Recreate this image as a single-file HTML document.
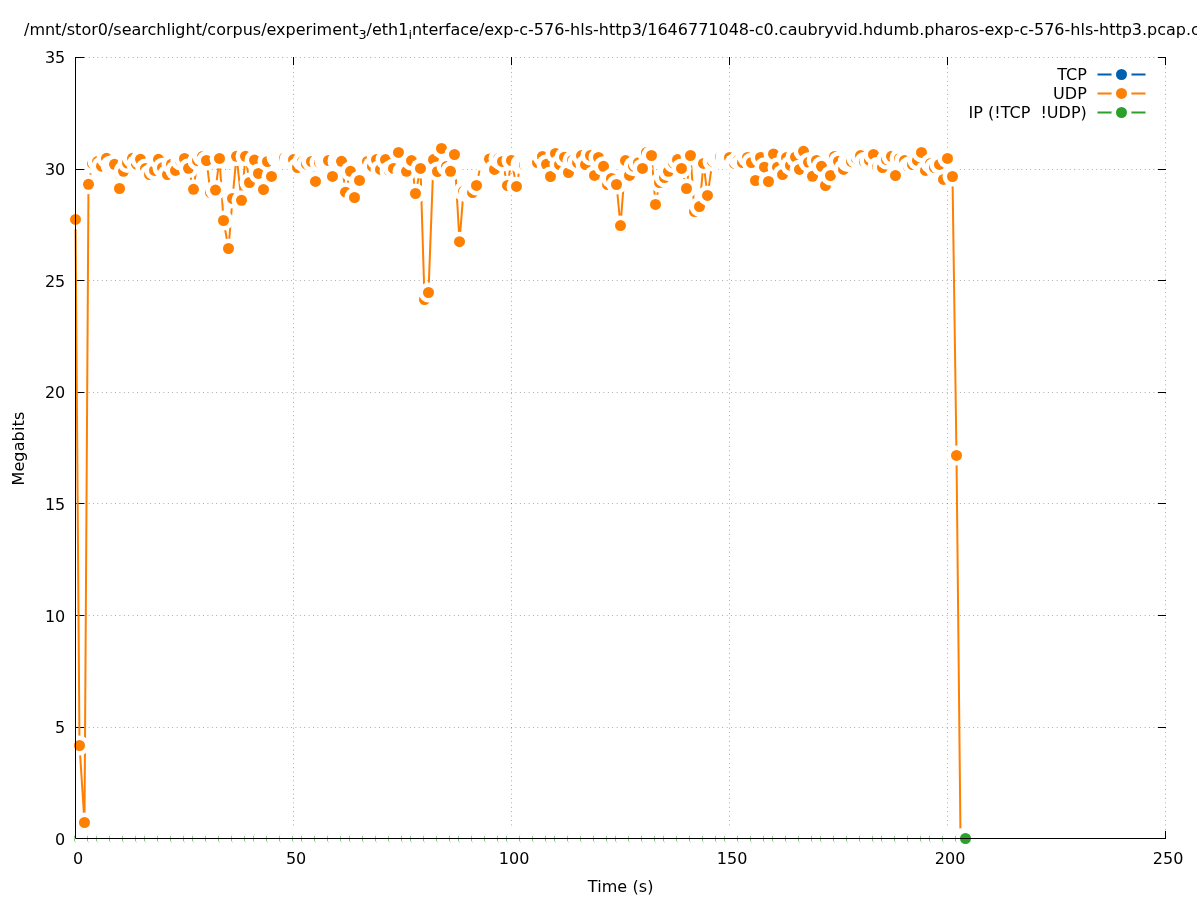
<!DOCTYPE html>
<html><head><meta charset="utf-8"><title>plot</title>
<style>html,body{margin:0;padding:0;background:#fff}svg{display:block}text{font-family:"DejaVu Sans","Liberation Sans",sans-serif;font-size:16px;fill:#000}</style></head><body>
<svg width="1197" height="900" viewBox="0 0 1197 900">
<rect width="1197" height="900" fill="#fff"/>
<g stroke="#000" stroke-opacity="0.4" stroke-width="1" stroke-dasharray="0.8 3.6" fill="none">
<path d="M75.5 838.5H1165.5"/>
<path d="M75.5 727.5H1165.5"/>
<path d="M75.5 615.5H1165.5"/>
<path d="M75.5 503.5H1165.5"/>
<path d="M75.5 392.5H1165.5"/>
<path d="M75.5 280.5H1165.5"/>
<path d="M75.5 169.5H1165.5"/>
<path d="M75.5 57.5H1165.5"/>
<path d="M75.5 838.5V57.5"/>
<path d="M293.5 838.5V57.5"/>
<path d="M511.5 838.5V57.5"/>
<path d="M729.5 838.5V57.5"/>
<path d="M947.5 838.5V57.5"/>
<path d="M1165.5 838.5V57.5"/>
</g>
<g stroke="#000" stroke-width="1" fill="none" stroke-linecap="butt">
<path d="M75 838.5H84.3M1157.9 838.5H1166"/>
<path d="M75 727.5H84.3M1157.9 727.5H1166"/>
<path d="M75 615.5H84.3M1157.9 615.5H1166"/>
<path d="M75 503.5H84.3M1157.9 503.5H1166"/>
<path d="M75 392.5H84.3M1157.9 392.5H1166"/>
<path d="M75 280.5H84.3M1157.9 280.5H1166"/>
<path d="M75 169.5H84.3M1157.9 169.5H1166"/>
<path d="M75 57.5H84.3M1157.9 57.5H1166"/>
<path d="M75.5 839V830.9M75.5 57V65.1"/>
<path d="M293.5 839V830.9M293.5 57V65.1"/>
<path d="M511.5 839V830.9M511.5 57V65.1"/>
<path d="M729.5 839V830.9M729.5 57V65.1"/>
<path d="M947.5 839V830.9M947.5 57V65.1"/>
<path d="M1165.5 839V830.9M1165.5 57V65.1"/>
</g>
<polyline points="75.50,219.40 79.50,745.50 84.50,822.50 88.50,184.30 92.50,163.40 97.50,161.60 101.50,166.20 106.50,158.30 110.50,165.50 114.50,164.30 119.50,188.50 123.50,171.30 127.50,163.00 132.50,158.30 136.50,164.20 140.50,159.30 145.50,168.50 149.50,174.60 154.50,170.40 158.50,159.30 162.50,167.70 167.50,174.60 171.50,164.20 175.50,170.40 180.50,160.50 184.50,158.50 188.50,168.30 193.50,189.30 197.50,160.70 202.50,156.40 206.50,160.50 210.50,192.60 215.50,190.10 219.50,158.40 223.50,220.50 228.50,248.50 232.50,198.50 236.50,156.30 241.50,200.30 245.50,156.30 249.50,182.50 254.50,160.10 258.50,173.40 263.50,189.50 267.50,161.50 271.50,176.40 276.50,157.10 280.50,158.30 284.50,158.00 289.50,159.50 293.50,159.60 297.50,167.50 302.50,161.40 306.50,164.20 311.50,161.50 315.50,181.40 319.50,162.60 324.50,161.30 328.50,160.50 332.50,176.40 337.50,160.90 341.50,161.30 345.50,192.20 350.50,171.30 354.50,197.50 359.50,180.40 363.50,161.70 367.50,161.40 372.50,166.40 376.50,159.60 380.50,169.40 385.50,159.60 389.50,170.90 393.50,168.40 398.50,152.40 402.50,171.80 406.50,171.30 411.50,160.60 415.50,193.50 420.50,168.40 424.50,299.50 428.50,292.50 433.50,159.60 437.50,171.50 441.50,148.40 446.50,166.40 450.50,171.30 454.50,154.50 459.50,241.70 463.50,191.30 468.50,193.50 472.50,192.60 476.50,185.40 481.50,160.90 485.50,159.60 489.50,159.00 494.50,169.40 498.50,158.80 502.50,161.50 507.50,185.50 511.50,160.50 516.50,186.40 520.50,164.00 524.50,165.10 529.50,164.20 533.50,163.40 537.50,162.50 542.50,156.40 546.50,164.30 550.50,176.50 555.50,153.50 559.50,164.60 564.50,157.20 568.50,172.50 572.50,160.20 577.50,162.60 581.50,155.60 585.50,164.60 590.50,155.50 594.50,175.40 598.50,157.50 603.50,166.30 607.50,184.60 611.50,178.50 616.50,184.50 620.50,225.60 625.50,160.60 629.50,175.40 633.50,166.20 638.50,162.70 642.50,168.40 646.50,152.50 651.50,155.50 655.50,204.40 659.50,182.50 664.50,177.50 668.50,171.30 673.50,163.00 677.50,159.60 681.50,168.40 686.50,188.50 690.50,155.50 694.50,211.60 699.50,206.60 703.50,163.40 707.50,195.40 712.50,161.40 716.50,158.10 720.50,156.70 725.50,156.90 729.50,157.50 734.50,163.40 738.50,160.00 742.50,162.50 747.50,157.50 751.50,162.50 755.50,180.50 760.50,157.50 764.50,167.20 768.50,181.50 773.50,154.00 777.50,167.20 782.50,174.60 786.50,157.60 790.50,165.40 795.50,157.10 799.50,169.40 803.50,151.30 808.50,162.30 812.50,176.30 816.50,160.40 821.50,166.30 825.50,185.50 830.50,175.50 834.50,156.40 838.50,161.30 843.50,169.40 847.50,161.90 851.50,161.70 856.50,158.40 860.50,155.60 864.50,161.70 869.50,160.40 873.50,154.50 877.50,166.80 882.50,167.50 886.50,159.50 891.50,156.30 895.50,175.50 899.50,158.40 904.50,160.60 908.50,166.80 912.50,164.60 917.50,160.40 921.50,152.40 925.50,170.40 930.50,163.50 934.50,167.50 939.50,164.40 943.50,179.40 947.50,158.40 952.50,176.50 956.50,455.40 960.50,838.50" fill="none" stroke="#ff7f00" stroke-width="2" stroke-linejoin="round"/>
<g>
<circle cx="75.50" cy="219.40" r="10.0" fill="#fff"/><circle cx="75.50" cy="219.40" r="5.5" fill="#ff7f00"/>
<circle cx="79.50" cy="745.50" r="10.0" fill="#fff"/><circle cx="79.50" cy="745.50" r="5.5" fill="#ff7f00"/>
<circle cx="84.50" cy="822.50" r="10.0" fill="#fff"/><circle cx="84.50" cy="822.50" r="5.5" fill="#ff7f00"/>
<circle cx="88.50" cy="184.30" r="10.0" fill="#fff"/><circle cx="88.50" cy="184.30" r="5.5" fill="#ff7f00"/>
<circle cx="92.50" cy="163.40" r="10.0" fill="#fff"/><circle cx="92.50" cy="163.40" r="5.5" fill="#ff7f00"/>
<circle cx="97.50" cy="161.60" r="10.0" fill="#fff"/><circle cx="97.50" cy="161.60" r="5.5" fill="#ff7f00"/>
<circle cx="101.50" cy="166.20" r="10.0" fill="#fff"/><circle cx="101.50" cy="166.20" r="5.5" fill="#ff7f00"/>
<circle cx="106.50" cy="158.30" r="10.0" fill="#fff"/><circle cx="106.50" cy="158.30" r="5.5" fill="#ff7f00"/>
<circle cx="110.50" cy="165.50" r="10.0" fill="#fff"/><circle cx="110.50" cy="165.50" r="5.5" fill="#ff7f00"/>
<circle cx="114.50" cy="164.30" r="10.0" fill="#fff"/><circle cx="114.50" cy="164.30" r="5.5" fill="#ff7f00"/>
<circle cx="119.50" cy="188.50" r="10.0" fill="#fff"/><circle cx="119.50" cy="188.50" r="5.5" fill="#ff7f00"/>
<circle cx="123.50" cy="171.30" r="10.0" fill="#fff"/><circle cx="123.50" cy="171.30" r="5.5" fill="#ff7f00"/>
<circle cx="127.50" cy="163.00" r="10.0" fill="#fff"/><circle cx="127.50" cy="163.00" r="5.5" fill="#ff7f00"/>
<circle cx="132.50" cy="158.30" r="10.0" fill="#fff"/><circle cx="132.50" cy="158.30" r="5.5" fill="#ff7f00"/>
<circle cx="136.50" cy="164.20" r="10.0" fill="#fff"/><circle cx="136.50" cy="164.20" r="5.5" fill="#ff7f00"/>
<circle cx="140.50" cy="159.30" r="10.0" fill="#fff"/><circle cx="140.50" cy="159.30" r="5.5" fill="#ff7f00"/>
<circle cx="145.50" cy="168.50" r="10.0" fill="#fff"/><circle cx="145.50" cy="168.50" r="5.5" fill="#ff7f00"/>
<circle cx="149.50" cy="174.60" r="10.0" fill="#fff"/><circle cx="149.50" cy="174.60" r="5.5" fill="#ff7f00"/>
<circle cx="154.50" cy="170.40" r="10.0" fill="#fff"/><circle cx="154.50" cy="170.40" r="5.5" fill="#ff7f00"/>
<circle cx="158.50" cy="159.30" r="10.0" fill="#fff"/><circle cx="158.50" cy="159.30" r="5.5" fill="#ff7f00"/>
<circle cx="162.50" cy="167.70" r="10.0" fill="#fff"/><circle cx="162.50" cy="167.70" r="5.5" fill="#ff7f00"/>
<circle cx="167.50" cy="174.60" r="10.0" fill="#fff"/><circle cx="167.50" cy="174.60" r="5.5" fill="#ff7f00"/>
<circle cx="171.50" cy="164.20" r="10.0" fill="#fff"/><circle cx="171.50" cy="164.20" r="5.5" fill="#ff7f00"/>
<circle cx="175.50" cy="170.40" r="10.0" fill="#fff"/><circle cx="175.50" cy="170.40" r="5.5" fill="#ff7f00"/>
<circle cx="180.50" cy="160.50" r="10.0" fill="#fff"/><circle cx="180.50" cy="160.50" r="5.5" fill="#ff7f00"/>
<circle cx="184.50" cy="158.50" r="10.0" fill="#fff"/><circle cx="184.50" cy="158.50" r="5.5" fill="#ff7f00"/>
<circle cx="188.50" cy="168.30" r="10.0" fill="#fff"/><circle cx="188.50" cy="168.30" r="5.5" fill="#ff7f00"/>
<circle cx="193.50" cy="189.30" r="10.0" fill="#fff"/><circle cx="193.50" cy="189.30" r="5.5" fill="#ff7f00"/>
<circle cx="197.50" cy="160.70" r="10.0" fill="#fff"/><circle cx="197.50" cy="160.70" r="5.5" fill="#ff7f00"/>
<circle cx="202.50" cy="156.40" r="10.0" fill="#fff"/><circle cx="202.50" cy="156.40" r="5.5" fill="#ff7f00"/>
<circle cx="206.50" cy="160.50" r="10.0" fill="#fff"/><circle cx="206.50" cy="160.50" r="5.5" fill="#ff7f00"/>
<circle cx="210.50" cy="192.60" r="10.0" fill="#fff"/><circle cx="210.50" cy="192.60" r="5.5" fill="#ff7f00"/>
<circle cx="215.50" cy="190.10" r="10.0" fill="#fff"/><circle cx="215.50" cy="190.10" r="5.5" fill="#ff7f00"/>
<circle cx="219.50" cy="158.40" r="10.0" fill="#fff"/><circle cx="219.50" cy="158.40" r="5.5" fill="#ff7f00"/>
<circle cx="223.50" cy="220.50" r="10.0" fill="#fff"/><circle cx="223.50" cy="220.50" r="5.5" fill="#ff7f00"/>
<circle cx="228.50" cy="248.50" r="10.0" fill="#fff"/><circle cx="228.50" cy="248.50" r="5.5" fill="#ff7f00"/>
<circle cx="232.50" cy="198.50" r="10.0" fill="#fff"/><circle cx="232.50" cy="198.50" r="5.5" fill="#ff7f00"/>
<circle cx="236.50" cy="156.30" r="10.0" fill="#fff"/><circle cx="236.50" cy="156.30" r="5.5" fill="#ff7f00"/>
<circle cx="241.50" cy="200.30" r="10.0" fill="#fff"/><circle cx="241.50" cy="200.30" r="5.5" fill="#ff7f00"/>
<circle cx="245.50" cy="156.30" r="10.0" fill="#fff"/><circle cx="245.50" cy="156.30" r="5.5" fill="#ff7f00"/>
<circle cx="249.50" cy="182.50" r="10.0" fill="#fff"/><circle cx="249.50" cy="182.50" r="5.5" fill="#ff7f00"/>
<circle cx="254.50" cy="160.10" r="10.0" fill="#fff"/><circle cx="254.50" cy="160.10" r="5.5" fill="#ff7f00"/>
<circle cx="258.50" cy="173.40" r="10.0" fill="#fff"/><circle cx="258.50" cy="173.40" r="5.5" fill="#ff7f00"/>
<circle cx="263.50" cy="189.50" r="10.0" fill="#fff"/><circle cx="263.50" cy="189.50" r="5.5" fill="#ff7f00"/>
<circle cx="267.50" cy="161.50" r="10.0" fill="#fff"/><circle cx="267.50" cy="161.50" r="5.5" fill="#ff7f00"/>
<circle cx="271.50" cy="176.40" r="10.0" fill="#fff"/><circle cx="271.50" cy="176.40" r="5.5" fill="#ff7f00"/>
<circle cx="276.50" cy="157.10" r="10.0" fill="#fff"/><circle cx="276.50" cy="157.10" r="5.5" fill="#ff7f00"/>
<circle cx="280.50" cy="158.30" r="10.0" fill="#fff"/><circle cx="280.50" cy="158.30" r="5.5" fill="#ff7f00"/>
<circle cx="284.50" cy="158.00" r="10.0" fill="#fff"/><circle cx="284.50" cy="158.00" r="5.5" fill="#ff7f00"/>
<circle cx="289.50" cy="159.50" r="10.0" fill="#fff"/><circle cx="289.50" cy="159.50" r="5.5" fill="#ff7f00"/>
<circle cx="293.50" cy="159.60" r="10.0" fill="#fff"/><circle cx="293.50" cy="159.60" r="5.5" fill="#ff7f00"/>
<circle cx="297.50" cy="167.50" r="10.0" fill="#fff"/><circle cx="297.50" cy="167.50" r="5.5" fill="#ff7f00"/>
<circle cx="302.50" cy="161.40" r="10.0" fill="#fff"/><circle cx="302.50" cy="161.40" r="5.5" fill="#ff7f00"/>
<circle cx="306.50" cy="164.20" r="10.0" fill="#fff"/><circle cx="306.50" cy="164.20" r="5.5" fill="#ff7f00"/>
<circle cx="311.50" cy="161.50" r="10.0" fill="#fff"/><circle cx="311.50" cy="161.50" r="5.5" fill="#ff7f00"/>
<circle cx="315.50" cy="181.40" r="10.0" fill="#fff"/><circle cx="315.50" cy="181.40" r="5.5" fill="#ff7f00"/>
<circle cx="319.50" cy="162.60" r="10.0" fill="#fff"/><circle cx="319.50" cy="162.60" r="5.5" fill="#ff7f00"/>
<circle cx="324.50" cy="161.30" r="10.0" fill="#fff"/><circle cx="324.50" cy="161.30" r="5.5" fill="#ff7f00"/>
<circle cx="328.50" cy="160.50" r="10.0" fill="#fff"/><circle cx="328.50" cy="160.50" r="5.5" fill="#ff7f00"/>
<circle cx="332.50" cy="176.40" r="10.0" fill="#fff"/><circle cx="332.50" cy="176.40" r="5.5" fill="#ff7f00"/>
<circle cx="337.50" cy="160.90" r="10.0" fill="#fff"/><circle cx="337.50" cy="160.90" r="5.5" fill="#ff7f00"/>
<circle cx="341.50" cy="161.30" r="10.0" fill="#fff"/><circle cx="341.50" cy="161.30" r="5.5" fill="#ff7f00"/>
<circle cx="345.50" cy="192.20" r="10.0" fill="#fff"/><circle cx="345.50" cy="192.20" r="5.5" fill="#ff7f00"/>
<circle cx="350.50" cy="171.30" r="10.0" fill="#fff"/><circle cx="350.50" cy="171.30" r="5.5" fill="#ff7f00"/>
<circle cx="354.50" cy="197.50" r="10.0" fill="#fff"/><circle cx="354.50" cy="197.50" r="5.5" fill="#ff7f00"/>
<circle cx="359.50" cy="180.40" r="10.0" fill="#fff"/><circle cx="359.50" cy="180.40" r="5.5" fill="#ff7f00"/>
<circle cx="363.50" cy="161.70" r="10.0" fill="#fff"/><circle cx="363.50" cy="161.70" r="5.5" fill="#ff7f00"/>
<circle cx="367.50" cy="161.40" r="10.0" fill="#fff"/><circle cx="367.50" cy="161.40" r="5.5" fill="#ff7f00"/>
<circle cx="372.50" cy="166.40" r="10.0" fill="#fff"/><circle cx="372.50" cy="166.40" r="5.5" fill="#ff7f00"/>
<circle cx="376.50" cy="159.60" r="10.0" fill="#fff"/><circle cx="376.50" cy="159.60" r="5.5" fill="#ff7f00"/>
<circle cx="380.50" cy="169.40" r="10.0" fill="#fff"/><circle cx="380.50" cy="169.40" r="5.5" fill="#ff7f00"/>
<circle cx="385.50" cy="159.60" r="10.0" fill="#fff"/><circle cx="385.50" cy="159.60" r="5.5" fill="#ff7f00"/>
<circle cx="389.50" cy="170.90" r="10.0" fill="#fff"/><circle cx="389.50" cy="170.90" r="5.5" fill="#ff7f00"/>
<circle cx="393.50" cy="168.40" r="10.0" fill="#fff"/><circle cx="393.50" cy="168.40" r="5.5" fill="#ff7f00"/>
<circle cx="398.50" cy="152.40" r="10.0" fill="#fff"/><circle cx="398.50" cy="152.40" r="5.5" fill="#ff7f00"/>
<circle cx="402.50" cy="171.80" r="10.0" fill="#fff"/><circle cx="402.50" cy="171.80" r="5.5" fill="#ff7f00"/>
<circle cx="406.50" cy="171.30" r="10.0" fill="#fff"/><circle cx="406.50" cy="171.30" r="5.5" fill="#ff7f00"/>
<circle cx="411.50" cy="160.60" r="10.0" fill="#fff"/><circle cx="411.50" cy="160.60" r="5.5" fill="#ff7f00"/>
<circle cx="415.50" cy="193.50" r="10.0" fill="#fff"/><circle cx="415.50" cy="193.50" r="5.5" fill="#ff7f00"/>
<circle cx="420.50" cy="168.40" r="10.0" fill="#fff"/><circle cx="420.50" cy="168.40" r="5.5" fill="#ff7f00"/>
<circle cx="424.50" cy="299.50" r="10.0" fill="#fff"/><circle cx="424.50" cy="299.50" r="5.5" fill="#ff7f00"/>
<circle cx="428.50" cy="292.50" r="10.0" fill="#fff"/><circle cx="428.50" cy="292.50" r="5.5" fill="#ff7f00"/>
<circle cx="433.50" cy="159.60" r="10.0" fill="#fff"/><circle cx="433.50" cy="159.60" r="5.5" fill="#ff7f00"/>
<circle cx="437.50" cy="171.50" r="10.0" fill="#fff"/><circle cx="437.50" cy="171.50" r="5.5" fill="#ff7f00"/>
<circle cx="441.50" cy="148.40" r="10.0" fill="#fff"/><circle cx="441.50" cy="148.40" r="5.5" fill="#ff7f00"/>
<circle cx="446.50" cy="166.40" r="10.0" fill="#fff"/><circle cx="446.50" cy="166.40" r="5.5" fill="#ff7f00"/>
<circle cx="450.50" cy="171.30" r="10.0" fill="#fff"/><circle cx="450.50" cy="171.30" r="5.5" fill="#ff7f00"/>
<circle cx="454.50" cy="154.50" r="10.0" fill="#fff"/><circle cx="454.50" cy="154.50" r="5.5" fill="#ff7f00"/>
<circle cx="459.50" cy="241.70" r="10.0" fill="#fff"/><circle cx="459.50" cy="241.70" r="5.5" fill="#ff7f00"/>
<circle cx="463.50" cy="191.30" r="10.0" fill="#fff"/><circle cx="463.50" cy="191.30" r="5.5" fill="#ff7f00"/>
<circle cx="468.50" cy="193.50" r="10.0" fill="#fff"/><circle cx="468.50" cy="193.50" r="5.5" fill="#ff7f00"/>
<circle cx="472.50" cy="192.60" r="10.0" fill="#fff"/><circle cx="472.50" cy="192.60" r="5.5" fill="#ff7f00"/>
<circle cx="476.50" cy="185.40" r="10.0" fill="#fff"/><circle cx="476.50" cy="185.40" r="5.5" fill="#ff7f00"/>
<circle cx="481.50" cy="160.90" r="10.0" fill="#fff"/><circle cx="481.50" cy="160.90" r="5.5" fill="#ff7f00"/>
<circle cx="485.50" cy="159.60" r="10.0" fill="#fff"/><circle cx="485.50" cy="159.60" r="5.5" fill="#ff7f00"/>
<circle cx="489.50" cy="159.00" r="10.0" fill="#fff"/><circle cx="489.50" cy="159.00" r="5.5" fill="#ff7f00"/>
<circle cx="494.50" cy="169.40" r="10.0" fill="#fff"/><circle cx="494.50" cy="169.40" r="5.5" fill="#ff7f00"/>
<circle cx="498.50" cy="158.80" r="10.0" fill="#fff"/><circle cx="498.50" cy="158.80" r="5.5" fill="#ff7f00"/>
<circle cx="502.50" cy="161.50" r="10.0" fill="#fff"/><circle cx="502.50" cy="161.50" r="5.5" fill="#ff7f00"/>
<circle cx="507.50" cy="185.50" r="10.0" fill="#fff"/><circle cx="507.50" cy="185.50" r="5.5" fill="#ff7f00"/>
<circle cx="511.50" cy="160.50" r="10.0" fill="#fff"/><circle cx="511.50" cy="160.50" r="5.5" fill="#ff7f00"/>
<circle cx="516.50" cy="186.40" r="10.0" fill="#fff"/><circle cx="516.50" cy="186.40" r="5.5" fill="#ff7f00"/>
<circle cx="520.50" cy="164.00" r="10.0" fill="#fff"/><circle cx="520.50" cy="164.00" r="5.5" fill="#ff7f00"/>
<circle cx="524.50" cy="165.10" r="10.0" fill="#fff"/><circle cx="524.50" cy="165.10" r="5.5" fill="#ff7f00"/>
<circle cx="529.50" cy="164.20" r="10.0" fill="#fff"/><circle cx="529.50" cy="164.20" r="5.5" fill="#ff7f00"/>
<circle cx="533.50" cy="163.40" r="10.0" fill="#fff"/><circle cx="533.50" cy="163.40" r="5.5" fill="#ff7f00"/>
<circle cx="537.50" cy="162.50" r="10.0" fill="#fff"/><circle cx="537.50" cy="162.50" r="5.5" fill="#ff7f00"/>
<circle cx="542.50" cy="156.40" r="10.0" fill="#fff"/><circle cx="542.50" cy="156.40" r="5.5" fill="#ff7f00"/>
<circle cx="546.50" cy="164.30" r="10.0" fill="#fff"/><circle cx="546.50" cy="164.30" r="5.5" fill="#ff7f00"/>
<circle cx="550.50" cy="176.50" r="10.0" fill="#fff"/><circle cx="550.50" cy="176.50" r="5.5" fill="#ff7f00"/>
<circle cx="555.50" cy="153.50" r="10.0" fill="#fff"/><circle cx="555.50" cy="153.50" r="5.5" fill="#ff7f00"/>
<circle cx="559.50" cy="164.60" r="10.0" fill="#fff"/><circle cx="559.50" cy="164.60" r="5.5" fill="#ff7f00"/>
<circle cx="564.50" cy="157.20" r="10.0" fill="#fff"/><circle cx="564.50" cy="157.20" r="5.5" fill="#ff7f00"/>
<circle cx="568.50" cy="172.50" r="10.0" fill="#fff"/><circle cx="568.50" cy="172.50" r="5.5" fill="#ff7f00"/>
<circle cx="572.50" cy="160.20" r="10.0" fill="#fff"/><circle cx="572.50" cy="160.20" r="5.5" fill="#ff7f00"/>
<circle cx="577.50" cy="162.60" r="10.0" fill="#fff"/><circle cx="577.50" cy="162.60" r="5.5" fill="#ff7f00"/>
<circle cx="581.50" cy="155.60" r="10.0" fill="#fff"/><circle cx="581.50" cy="155.60" r="5.5" fill="#ff7f00"/>
<circle cx="585.50" cy="164.60" r="10.0" fill="#fff"/><circle cx="585.50" cy="164.60" r="5.5" fill="#ff7f00"/>
<circle cx="590.50" cy="155.50" r="10.0" fill="#fff"/><circle cx="590.50" cy="155.50" r="5.5" fill="#ff7f00"/>
<circle cx="594.50" cy="175.40" r="10.0" fill="#fff"/><circle cx="594.50" cy="175.40" r="5.5" fill="#ff7f00"/>
<circle cx="598.50" cy="157.50" r="10.0" fill="#fff"/><circle cx="598.50" cy="157.50" r="5.5" fill="#ff7f00"/>
<circle cx="603.50" cy="166.30" r="10.0" fill="#fff"/><circle cx="603.50" cy="166.30" r="5.5" fill="#ff7f00"/>
<circle cx="607.50" cy="184.60" r="10.0" fill="#fff"/><circle cx="607.50" cy="184.60" r="5.5" fill="#ff7f00"/>
<circle cx="611.50" cy="178.50" r="10.0" fill="#fff"/><circle cx="611.50" cy="178.50" r="5.5" fill="#ff7f00"/>
<circle cx="616.50" cy="184.50" r="10.0" fill="#fff"/><circle cx="616.50" cy="184.50" r="5.5" fill="#ff7f00"/>
<circle cx="620.50" cy="225.60" r="10.0" fill="#fff"/><circle cx="620.50" cy="225.60" r="5.5" fill="#ff7f00"/>
<circle cx="625.50" cy="160.60" r="10.0" fill="#fff"/><circle cx="625.50" cy="160.60" r="5.5" fill="#ff7f00"/>
<circle cx="629.50" cy="175.40" r="10.0" fill="#fff"/><circle cx="629.50" cy="175.40" r="5.5" fill="#ff7f00"/>
<circle cx="633.50" cy="166.20" r="10.0" fill="#fff"/><circle cx="633.50" cy="166.20" r="5.5" fill="#ff7f00"/>
<circle cx="638.50" cy="162.70" r="10.0" fill="#fff"/><circle cx="638.50" cy="162.70" r="5.5" fill="#ff7f00"/>
<circle cx="642.50" cy="168.40" r="10.0" fill="#fff"/><circle cx="642.50" cy="168.40" r="5.5" fill="#ff7f00"/>
<circle cx="646.50" cy="152.50" r="10.0" fill="#fff"/><circle cx="646.50" cy="152.50" r="5.5" fill="#ff7f00"/>
<circle cx="651.50" cy="155.50" r="10.0" fill="#fff"/><circle cx="651.50" cy="155.50" r="5.5" fill="#ff7f00"/>
<circle cx="655.50" cy="204.40" r="10.0" fill="#fff"/><circle cx="655.50" cy="204.40" r="5.5" fill="#ff7f00"/>
<circle cx="659.50" cy="182.50" r="10.0" fill="#fff"/><circle cx="659.50" cy="182.50" r="5.5" fill="#ff7f00"/>
<circle cx="664.50" cy="177.50" r="10.0" fill="#fff"/><circle cx="664.50" cy="177.50" r="5.5" fill="#ff7f00"/>
<circle cx="668.50" cy="171.30" r="10.0" fill="#fff"/><circle cx="668.50" cy="171.30" r="5.5" fill="#ff7f00"/>
<circle cx="673.50" cy="163.00" r="10.0" fill="#fff"/><circle cx="673.50" cy="163.00" r="5.5" fill="#ff7f00"/>
<circle cx="677.50" cy="159.60" r="10.0" fill="#fff"/><circle cx="677.50" cy="159.60" r="5.5" fill="#ff7f00"/>
<circle cx="681.50" cy="168.40" r="10.0" fill="#fff"/><circle cx="681.50" cy="168.40" r="5.5" fill="#ff7f00"/>
<circle cx="686.50" cy="188.50" r="10.0" fill="#fff"/><circle cx="686.50" cy="188.50" r="5.5" fill="#ff7f00"/>
<circle cx="690.50" cy="155.50" r="10.0" fill="#fff"/><circle cx="690.50" cy="155.50" r="5.5" fill="#ff7f00"/>
<circle cx="694.50" cy="211.60" r="10.0" fill="#fff"/><circle cx="694.50" cy="211.60" r="5.5" fill="#ff7f00"/>
<circle cx="699.50" cy="206.60" r="10.0" fill="#fff"/><circle cx="699.50" cy="206.60" r="5.5" fill="#ff7f00"/>
<circle cx="703.50" cy="163.40" r="10.0" fill="#fff"/><circle cx="703.50" cy="163.40" r="5.5" fill="#ff7f00"/>
<circle cx="707.50" cy="195.40" r="10.0" fill="#fff"/><circle cx="707.50" cy="195.40" r="5.5" fill="#ff7f00"/>
<circle cx="712.50" cy="161.40" r="10.0" fill="#fff"/><circle cx="712.50" cy="161.40" r="5.5" fill="#ff7f00"/>
<circle cx="716.50" cy="158.10" r="10.0" fill="#fff"/><circle cx="716.50" cy="158.10" r="5.5" fill="#ff7f00"/>
<circle cx="720.50" cy="156.70" r="10.0" fill="#fff"/><circle cx="720.50" cy="156.70" r="5.5" fill="#ff7f00"/>
<circle cx="725.50" cy="156.90" r="10.0" fill="#fff"/><circle cx="725.50" cy="156.90" r="5.5" fill="#ff7f00"/>
<circle cx="729.50" cy="157.50" r="10.0" fill="#fff"/><circle cx="729.50" cy="157.50" r="5.5" fill="#ff7f00"/>
<circle cx="734.50" cy="163.40" r="10.0" fill="#fff"/><circle cx="734.50" cy="163.40" r="5.5" fill="#ff7f00"/>
<circle cx="738.50" cy="160.00" r="10.0" fill="#fff"/><circle cx="738.50" cy="160.00" r="5.5" fill="#ff7f00"/>
<circle cx="742.50" cy="162.50" r="10.0" fill="#fff"/><circle cx="742.50" cy="162.50" r="5.5" fill="#ff7f00"/>
<circle cx="747.50" cy="157.50" r="10.0" fill="#fff"/><circle cx="747.50" cy="157.50" r="5.5" fill="#ff7f00"/>
<circle cx="751.50" cy="162.50" r="10.0" fill="#fff"/><circle cx="751.50" cy="162.50" r="5.5" fill="#ff7f00"/>
<circle cx="755.50" cy="180.50" r="10.0" fill="#fff"/><circle cx="755.50" cy="180.50" r="5.5" fill="#ff7f00"/>
<circle cx="760.50" cy="157.50" r="10.0" fill="#fff"/><circle cx="760.50" cy="157.50" r="5.5" fill="#ff7f00"/>
<circle cx="764.50" cy="167.20" r="10.0" fill="#fff"/><circle cx="764.50" cy="167.20" r="5.5" fill="#ff7f00"/>
<circle cx="768.50" cy="181.50" r="10.0" fill="#fff"/><circle cx="768.50" cy="181.50" r="5.5" fill="#ff7f00"/>
<circle cx="773.50" cy="154.00" r="10.0" fill="#fff"/><circle cx="773.50" cy="154.00" r="5.5" fill="#ff7f00"/>
<circle cx="777.50" cy="167.20" r="10.0" fill="#fff"/><circle cx="777.50" cy="167.20" r="5.5" fill="#ff7f00"/>
<circle cx="782.50" cy="174.60" r="10.0" fill="#fff"/><circle cx="782.50" cy="174.60" r="5.5" fill="#ff7f00"/>
<circle cx="786.50" cy="157.60" r="10.0" fill="#fff"/><circle cx="786.50" cy="157.60" r="5.5" fill="#ff7f00"/>
<circle cx="790.50" cy="165.40" r="10.0" fill="#fff"/><circle cx="790.50" cy="165.40" r="5.5" fill="#ff7f00"/>
<circle cx="795.50" cy="157.10" r="10.0" fill="#fff"/><circle cx="795.50" cy="157.10" r="5.5" fill="#ff7f00"/>
<circle cx="799.50" cy="169.40" r="10.0" fill="#fff"/><circle cx="799.50" cy="169.40" r="5.5" fill="#ff7f00"/>
<circle cx="803.50" cy="151.30" r="10.0" fill="#fff"/><circle cx="803.50" cy="151.30" r="5.5" fill="#ff7f00"/>
<circle cx="808.50" cy="162.30" r="10.0" fill="#fff"/><circle cx="808.50" cy="162.30" r="5.5" fill="#ff7f00"/>
<circle cx="812.50" cy="176.30" r="10.0" fill="#fff"/><circle cx="812.50" cy="176.30" r="5.5" fill="#ff7f00"/>
<circle cx="816.50" cy="160.40" r="10.0" fill="#fff"/><circle cx="816.50" cy="160.40" r="5.5" fill="#ff7f00"/>
<circle cx="821.50" cy="166.30" r="10.0" fill="#fff"/><circle cx="821.50" cy="166.30" r="5.5" fill="#ff7f00"/>
<circle cx="825.50" cy="185.50" r="10.0" fill="#fff"/><circle cx="825.50" cy="185.50" r="5.5" fill="#ff7f00"/>
<circle cx="830.50" cy="175.50" r="10.0" fill="#fff"/><circle cx="830.50" cy="175.50" r="5.5" fill="#ff7f00"/>
<circle cx="834.50" cy="156.40" r="10.0" fill="#fff"/><circle cx="834.50" cy="156.40" r="5.5" fill="#ff7f00"/>
<circle cx="838.50" cy="161.30" r="10.0" fill="#fff"/><circle cx="838.50" cy="161.30" r="5.5" fill="#ff7f00"/>
<circle cx="843.50" cy="169.40" r="10.0" fill="#fff"/><circle cx="843.50" cy="169.40" r="5.5" fill="#ff7f00"/>
<circle cx="847.50" cy="161.90" r="10.0" fill="#fff"/><circle cx="847.50" cy="161.90" r="5.5" fill="#ff7f00"/>
<circle cx="851.50" cy="161.70" r="10.0" fill="#fff"/><circle cx="851.50" cy="161.70" r="5.5" fill="#ff7f00"/>
<circle cx="856.50" cy="158.40" r="10.0" fill="#fff"/><circle cx="856.50" cy="158.40" r="5.5" fill="#ff7f00"/>
<circle cx="860.50" cy="155.60" r="10.0" fill="#fff"/><circle cx="860.50" cy="155.60" r="5.5" fill="#ff7f00"/>
<circle cx="864.50" cy="161.70" r="10.0" fill="#fff"/><circle cx="864.50" cy="161.70" r="5.5" fill="#ff7f00"/>
<circle cx="869.50" cy="160.40" r="10.0" fill="#fff"/><circle cx="869.50" cy="160.40" r="5.5" fill="#ff7f00"/>
<circle cx="873.50" cy="154.50" r="10.0" fill="#fff"/><circle cx="873.50" cy="154.50" r="5.5" fill="#ff7f00"/>
<circle cx="877.50" cy="166.80" r="10.0" fill="#fff"/><circle cx="877.50" cy="166.80" r="5.5" fill="#ff7f00"/>
<circle cx="882.50" cy="167.50" r="10.0" fill="#fff"/><circle cx="882.50" cy="167.50" r="5.5" fill="#ff7f00"/>
<circle cx="886.50" cy="159.50" r="10.0" fill="#fff"/><circle cx="886.50" cy="159.50" r="5.5" fill="#ff7f00"/>
<circle cx="891.50" cy="156.30" r="10.0" fill="#fff"/><circle cx="891.50" cy="156.30" r="5.5" fill="#ff7f00"/>
<circle cx="895.50" cy="175.50" r="10.0" fill="#fff"/><circle cx="895.50" cy="175.50" r="5.5" fill="#ff7f00"/>
<circle cx="899.50" cy="158.40" r="10.0" fill="#fff"/><circle cx="899.50" cy="158.40" r="5.5" fill="#ff7f00"/>
<circle cx="904.50" cy="160.60" r="10.0" fill="#fff"/><circle cx="904.50" cy="160.60" r="5.5" fill="#ff7f00"/>
<circle cx="908.50" cy="166.80" r="10.0" fill="#fff"/><circle cx="908.50" cy="166.80" r="5.5" fill="#ff7f00"/>
<circle cx="912.50" cy="164.60" r="10.0" fill="#fff"/><circle cx="912.50" cy="164.60" r="5.5" fill="#ff7f00"/>
<circle cx="917.50" cy="160.40" r="10.0" fill="#fff"/><circle cx="917.50" cy="160.40" r="5.5" fill="#ff7f00"/>
<circle cx="921.50" cy="152.40" r="10.0" fill="#fff"/><circle cx="921.50" cy="152.40" r="5.5" fill="#ff7f00"/>
<circle cx="925.50" cy="170.40" r="10.0" fill="#fff"/><circle cx="925.50" cy="170.40" r="5.5" fill="#ff7f00"/>
<circle cx="930.50" cy="163.50" r="10.0" fill="#fff"/><circle cx="930.50" cy="163.50" r="5.5" fill="#ff7f00"/>
<circle cx="934.50" cy="167.50" r="10.0" fill="#fff"/><circle cx="934.50" cy="167.50" r="5.5" fill="#ff7f00"/>
<circle cx="939.50" cy="164.40" r="10.0" fill="#fff"/><circle cx="939.50" cy="164.40" r="5.5" fill="#ff7f00"/>
<circle cx="943.50" cy="179.40" r="10.0" fill="#fff"/><circle cx="943.50" cy="179.40" r="5.5" fill="#ff7f00"/>
<circle cx="947.50" cy="158.40" r="10.0" fill="#fff"/><circle cx="947.50" cy="158.40" r="5.5" fill="#ff7f00"/>
<circle cx="952.50" cy="176.50" r="10.0" fill="#fff"/><circle cx="952.50" cy="176.50" r="5.5" fill="#ff7f00"/>
<circle cx="956.50" cy="455.40" r="10.0" fill="#fff"/><circle cx="956.50" cy="455.40" r="5.5" fill="#ff7f00"/>
<circle cx="960.50" cy="838.50" r="10.0" fill="#fff"/><circle cx="960.50" cy="838.50" r="5.5" fill="#ff7f00"/>
</g>
<g>
<circle cx="79.50" cy="838.5" r="10.0" fill="#fff"/><circle cx="79.50" cy="838.5" r="5.5" fill="#2ca02c"/>
<circle cx="84.50" cy="838.5" r="10.0" fill="#fff"/><circle cx="84.50" cy="838.5" r="5.5" fill="#2ca02c"/>
<circle cx="88.50" cy="838.5" r="10.0" fill="#fff"/><circle cx="88.50" cy="838.5" r="5.5" fill="#2ca02c"/>
<circle cx="92.50" cy="838.5" r="10.0" fill="#fff"/><circle cx="92.50" cy="838.5" r="5.5" fill="#2ca02c"/>
<circle cx="97.50" cy="838.5" r="10.0" fill="#fff"/><circle cx="97.50" cy="838.5" r="5.5" fill="#2ca02c"/>
<circle cx="101.50" cy="838.5" r="10.0" fill="#fff"/><circle cx="101.50" cy="838.5" r="5.5" fill="#2ca02c"/>
<circle cx="106.50" cy="838.5" r="10.0" fill="#fff"/><circle cx="106.50" cy="838.5" r="5.5" fill="#2ca02c"/>
<circle cx="110.50" cy="838.5" r="10.0" fill="#fff"/><circle cx="110.50" cy="838.5" r="5.5" fill="#2ca02c"/>
<circle cx="114.50" cy="838.5" r="10.0" fill="#fff"/><circle cx="114.50" cy="838.5" r="5.5" fill="#2ca02c"/>
<circle cx="119.50" cy="838.5" r="10.0" fill="#fff"/><circle cx="119.50" cy="838.5" r="5.5" fill="#2ca02c"/>
<circle cx="123.50" cy="838.5" r="10.0" fill="#fff"/><circle cx="123.50" cy="838.5" r="5.5" fill="#2ca02c"/>
<circle cx="127.50" cy="838.5" r="10.0" fill="#fff"/><circle cx="127.50" cy="838.5" r="5.5" fill="#2ca02c"/>
<circle cx="132.50" cy="838.5" r="10.0" fill="#fff"/><circle cx="132.50" cy="838.5" r="5.5" fill="#2ca02c"/>
<circle cx="136.50" cy="838.5" r="10.0" fill="#fff"/><circle cx="136.50" cy="838.5" r="5.5" fill="#2ca02c"/>
<circle cx="140.50" cy="838.5" r="10.0" fill="#fff"/><circle cx="140.50" cy="838.5" r="5.5" fill="#2ca02c"/>
<circle cx="145.50" cy="838.5" r="10.0" fill="#fff"/><circle cx="145.50" cy="838.5" r="5.5" fill="#2ca02c"/>
<circle cx="149.50" cy="838.5" r="10.0" fill="#fff"/><circle cx="149.50" cy="838.5" r="5.5" fill="#2ca02c"/>
<circle cx="154.50" cy="838.5" r="10.0" fill="#fff"/><circle cx="154.50" cy="838.5" r="5.5" fill="#2ca02c"/>
<circle cx="158.50" cy="838.5" r="10.0" fill="#fff"/><circle cx="158.50" cy="838.5" r="5.5" fill="#2ca02c"/>
<circle cx="162.50" cy="838.5" r="10.0" fill="#fff"/><circle cx="162.50" cy="838.5" r="5.5" fill="#2ca02c"/>
<circle cx="167.50" cy="838.5" r="10.0" fill="#fff"/><circle cx="167.50" cy="838.5" r="5.5" fill="#2ca02c"/>
<circle cx="171.50" cy="838.5" r="10.0" fill="#fff"/><circle cx="171.50" cy="838.5" r="5.5" fill="#2ca02c"/>
<circle cx="175.50" cy="838.5" r="10.0" fill="#fff"/><circle cx="175.50" cy="838.5" r="5.5" fill="#2ca02c"/>
<circle cx="180.50" cy="838.5" r="10.0" fill="#fff"/><circle cx="180.50" cy="838.5" r="5.5" fill="#2ca02c"/>
<circle cx="184.50" cy="838.5" r="10.0" fill="#fff"/><circle cx="184.50" cy="838.5" r="5.5" fill="#2ca02c"/>
<circle cx="188.50" cy="838.5" r="10.0" fill="#fff"/><circle cx="188.50" cy="838.5" r="5.5" fill="#2ca02c"/>
<circle cx="193.50" cy="838.5" r="10.0" fill="#fff"/><circle cx="193.50" cy="838.5" r="5.5" fill="#2ca02c"/>
<circle cx="197.50" cy="838.5" r="10.0" fill="#fff"/><circle cx="197.50" cy="838.5" r="5.5" fill="#2ca02c"/>
<circle cx="202.50" cy="838.5" r="10.0" fill="#fff"/><circle cx="202.50" cy="838.5" r="5.5" fill="#2ca02c"/>
<circle cx="206.50" cy="838.5" r="10.0" fill="#fff"/><circle cx="206.50" cy="838.5" r="5.5" fill="#2ca02c"/>
<circle cx="210.50" cy="838.5" r="10.0" fill="#fff"/><circle cx="210.50" cy="838.5" r="5.5" fill="#2ca02c"/>
<circle cx="215.50" cy="838.5" r="10.0" fill="#fff"/><circle cx="215.50" cy="838.5" r="5.5" fill="#2ca02c"/>
<circle cx="219.50" cy="838.5" r="10.0" fill="#fff"/><circle cx="219.50" cy="838.5" r="5.5" fill="#2ca02c"/>
<circle cx="223.50" cy="838.5" r="10.0" fill="#fff"/><circle cx="223.50" cy="838.5" r="5.5" fill="#2ca02c"/>
<circle cx="228.50" cy="838.5" r="10.0" fill="#fff"/><circle cx="228.50" cy="838.5" r="5.5" fill="#2ca02c"/>
<circle cx="232.50" cy="838.5" r="10.0" fill="#fff"/><circle cx="232.50" cy="838.5" r="5.5" fill="#2ca02c"/>
<circle cx="236.50" cy="838.5" r="10.0" fill="#fff"/><circle cx="236.50" cy="838.5" r="5.5" fill="#2ca02c"/>
<circle cx="241.50" cy="838.5" r="10.0" fill="#fff"/><circle cx="241.50" cy="838.5" r="5.5" fill="#2ca02c"/>
<circle cx="245.50" cy="838.5" r="10.0" fill="#fff"/><circle cx="245.50" cy="838.5" r="5.5" fill="#2ca02c"/>
<circle cx="249.50" cy="838.5" r="10.0" fill="#fff"/><circle cx="249.50" cy="838.5" r="5.5" fill="#2ca02c"/>
<circle cx="254.50" cy="838.5" r="10.0" fill="#fff"/><circle cx="254.50" cy="838.5" r="5.5" fill="#2ca02c"/>
<circle cx="258.50" cy="838.5" r="10.0" fill="#fff"/><circle cx="258.50" cy="838.5" r="5.5" fill="#2ca02c"/>
<circle cx="263.50" cy="838.5" r="10.0" fill="#fff"/><circle cx="263.50" cy="838.5" r="5.5" fill="#2ca02c"/>
<circle cx="267.50" cy="838.5" r="10.0" fill="#fff"/><circle cx="267.50" cy="838.5" r="5.5" fill="#2ca02c"/>
<circle cx="271.50" cy="838.5" r="10.0" fill="#fff"/><circle cx="271.50" cy="838.5" r="5.5" fill="#2ca02c"/>
<circle cx="276.50" cy="838.5" r="10.0" fill="#fff"/><circle cx="276.50" cy="838.5" r="5.5" fill="#2ca02c"/>
<circle cx="280.50" cy="838.5" r="10.0" fill="#fff"/><circle cx="280.50" cy="838.5" r="5.5" fill="#2ca02c"/>
<circle cx="284.50" cy="838.5" r="10.0" fill="#fff"/><circle cx="284.50" cy="838.5" r="5.5" fill="#2ca02c"/>
<circle cx="289.50" cy="838.5" r="10.0" fill="#fff"/><circle cx="289.50" cy="838.5" r="5.5" fill="#2ca02c"/>
<circle cx="293.50" cy="838.5" r="10.0" fill="#fff"/><circle cx="293.50" cy="838.5" r="5.5" fill="#2ca02c"/>
<circle cx="297.50" cy="838.5" r="10.0" fill="#fff"/><circle cx="297.50" cy="838.5" r="5.5" fill="#2ca02c"/>
<circle cx="302.50" cy="838.5" r="10.0" fill="#fff"/><circle cx="302.50" cy="838.5" r="5.5" fill="#2ca02c"/>
<circle cx="306.50" cy="838.5" r="10.0" fill="#fff"/><circle cx="306.50" cy="838.5" r="5.5" fill="#2ca02c"/>
<circle cx="311.50" cy="838.5" r="10.0" fill="#fff"/><circle cx="311.50" cy="838.5" r="5.5" fill="#2ca02c"/>
<circle cx="315.50" cy="838.5" r="10.0" fill="#fff"/><circle cx="315.50" cy="838.5" r="5.5" fill="#2ca02c"/>
<circle cx="319.50" cy="838.5" r="10.0" fill="#fff"/><circle cx="319.50" cy="838.5" r="5.5" fill="#2ca02c"/>
<circle cx="324.50" cy="838.5" r="10.0" fill="#fff"/><circle cx="324.50" cy="838.5" r="5.5" fill="#2ca02c"/>
<circle cx="328.50" cy="838.5" r="10.0" fill="#fff"/><circle cx="328.50" cy="838.5" r="5.5" fill="#2ca02c"/>
<circle cx="332.50" cy="838.5" r="10.0" fill="#fff"/><circle cx="332.50" cy="838.5" r="5.5" fill="#2ca02c"/>
<circle cx="337.50" cy="838.5" r="10.0" fill="#fff"/><circle cx="337.50" cy="838.5" r="5.5" fill="#2ca02c"/>
<circle cx="341.50" cy="838.5" r="10.0" fill="#fff"/><circle cx="341.50" cy="838.5" r="5.5" fill="#2ca02c"/>
<circle cx="345.50" cy="838.5" r="10.0" fill="#fff"/><circle cx="345.50" cy="838.5" r="5.5" fill="#2ca02c"/>
<circle cx="350.50" cy="838.5" r="10.0" fill="#fff"/><circle cx="350.50" cy="838.5" r="5.5" fill="#2ca02c"/>
<circle cx="354.50" cy="838.5" r="10.0" fill="#fff"/><circle cx="354.50" cy="838.5" r="5.5" fill="#2ca02c"/>
<circle cx="359.50" cy="838.5" r="10.0" fill="#fff"/><circle cx="359.50" cy="838.5" r="5.5" fill="#2ca02c"/>
<circle cx="363.50" cy="838.5" r="10.0" fill="#fff"/><circle cx="363.50" cy="838.5" r="5.5" fill="#2ca02c"/>
<circle cx="367.50" cy="838.5" r="10.0" fill="#fff"/><circle cx="367.50" cy="838.5" r="5.5" fill="#2ca02c"/>
<circle cx="372.50" cy="838.5" r="10.0" fill="#fff"/><circle cx="372.50" cy="838.5" r="5.5" fill="#2ca02c"/>
<circle cx="376.50" cy="838.5" r="10.0" fill="#fff"/><circle cx="376.50" cy="838.5" r="5.5" fill="#2ca02c"/>
<circle cx="380.50" cy="838.5" r="10.0" fill="#fff"/><circle cx="380.50" cy="838.5" r="5.5" fill="#2ca02c"/>
<circle cx="385.50" cy="838.5" r="10.0" fill="#fff"/><circle cx="385.50" cy="838.5" r="5.5" fill="#2ca02c"/>
<circle cx="389.50" cy="838.5" r="10.0" fill="#fff"/><circle cx="389.50" cy="838.5" r="5.5" fill="#2ca02c"/>
<circle cx="393.50" cy="838.5" r="10.0" fill="#fff"/><circle cx="393.50" cy="838.5" r="5.5" fill="#2ca02c"/>
<circle cx="398.50" cy="838.5" r="10.0" fill="#fff"/><circle cx="398.50" cy="838.5" r="5.5" fill="#2ca02c"/>
<circle cx="402.50" cy="838.5" r="10.0" fill="#fff"/><circle cx="402.50" cy="838.5" r="5.5" fill="#2ca02c"/>
<circle cx="406.50" cy="838.5" r="10.0" fill="#fff"/><circle cx="406.50" cy="838.5" r="5.5" fill="#2ca02c"/>
<circle cx="411.50" cy="838.5" r="10.0" fill="#fff"/><circle cx="411.50" cy="838.5" r="5.5" fill="#2ca02c"/>
<circle cx="415.50" cy="838.5" r="10.0" fill="#fff"/><circle cx="415.50" cy="838.5" r="5.5" fill="#2ca02c"/>
<circle cx="420.50" cy="838.5" r="10.0" fill="#fff"/><circle cx="420.50" cy="838.5" r="5.5" fill="#2ca02c"/>
<circle cx="424.50" cy="838.5" r="10.0" fill="#fff"/><circle cx="424.50" cy="838.5" r="5.5" fill="#2ca02c"/>
<circle cx="428.50" cy="838.5" r="10.0" fill="#fff"/><circle cx="428.50" cy="838.5" r="5.5" fill="#2ca02c"/>
<circle cx="433.50" cy="838.5" r="10.0" fill="#fff"/><circle cx="433.50" cy="838.5" r="5.5" fill="#2ca02c"/>
<circle cx="437.50" cy="838.5" r="10.0" fill="#fff"/><circle cx="437.50" cy="838.5" r="5.5" fill="#2ca02c"/>
<circle cx="441.50" cy="838.5" r="10.0" fill="#fff"/><circle cx="441.50" cy="838.5" r="5.5" fill="#2ca02c"/>
<circle cx="446.50" cy="838.5" r="10.0" fill="#fff"/><circle cx="446.50" cy="838.5" r="5.5" fill="#2ca02c"/>
<circle cx="450.50" cy="838.5" r="10.0" fill="#fff"/><circle cx="450.50" cy="838.5" r="5.5" fill="#2ca02c"/>
<circle cx="454.50" cy="838.5" r="10.0" fill="#fff"/><circle cx="454.50" cy="838.5" r="5.5" fill="#2ca02c"/>
<circle cx="459.50" cy="838.5" r="10.0" fill="#fff"/><circle cx="459.50" cy="838.5" r="5.5" fill="#2ca02c"/>
<circle cx="463.50" cy="838.5" r="10.0" fill="#fff"/><circle cx="463.50" cy="838.5" r="5.5" fill="#2ca02c"/>
<circle cx="468.50" cy="838.5" r="10.0" fill="#fff"/><circle cx="468.50" cy="838.5" r="5.5" fill="#2ca02c"/>
<circle cx="472.50" cy="838.5" r="10.0" fill="#fff"/><circle cx="472.50" cy="838.5" r="5.5" fill="#2ca02c"/>
<circle cx="476.50" cy="838.5" r="10.0" fill="#fff"/><circle cx="476.50" cy="838.5" r="5.5" fill="#2ca02c"/>
<circle cx="481.50" cy="838.5" r="10.0" fill="#fff"/><circle cx="481.50" cy="838.5" r="5.5" fill="#2ca02c"/>
<circle cx="485.50" cy="838.5" r="10.0" fill="#fff"/><circle cx="485.50" cy="838.5" r="5.5" fill="#2ca02c"/>
<circle cx="489.50" cy="838.5" r="10.0" fill="#fff"/><circle cx="489.50" cy="838.5" r="5.5" fill="#2ca02c"/>
<circle cx="494.50" cy="838.5" r="10.0" fill="#fff"/><circle cx="494.50" cy="838.5" r="5.5" fill="#2ca02c"/>
<circle cx="498.50" cy="838.5" r="10.0" fill="#fff"/><circle cx="498.50" cy="838.5" r="5.5" fill="#2ca02c"/>
<circle cx="502.50" cy="838.5" r="10.0" fill="#fff"/><circle cx="502.50" cy="838.5" r="5.5" fill="#2ca02c"/>
<circle cx="507.50" cy="838.5" r="10.0" fill="#fff"/><circle cx="507.50" cy="838.5" r="5.5" fill="#2ca02c"/>
<circle cx="511.50" cy="838.5" r="10.0" fill="#fff"/><circle cx="511.50" cy="838.5" r="5.5" fill="#2ca02c"/>
<circle cx="516.50" cy="838.5" r="10.0" fill="#fff"/><circle cx="516.50" cy="838.5" r="5.5" fill="#2ca02c"/>
<circle cx="520.50" cy="838.5" r="10.0" fill="#fff"/><circle cx="520.50" cy="838.5" r="5.5" fill="#2ca02c"/>
<circle cx="524.50" cy="838.5" r="10.0" fill="#fff"/><circle cx="524.50" cy="838.5" r="5.5" fill="#2ca02c"/>
<circle cx="529.50" cy="838.5" r="10.0" fill="#fff"/><circle cx="529.50" cy="838.5" r="5.5" fill="#2ca02c"/>
<circle cx="533.50" cy="838.5" r="10.0" fill="#fff"/><circle cx="533.50" cy="838.5" r="5.5" fill="#2ca02c"/>
<circle cx="537.50" cy="838.5" r="10.0" fill="#fff"/><circle cx="537.50" cy="838.5" r="5.5" fill="#2ca02c"/>
<circle cx="542.50" cy="838.5" r="10.0" fill="#fff"/><circle cx="542.50" cy="838.5" r="5.5" fill="#2ca02c"/>
<circle cx="546.50" cy="838.5" r="10.0" fill="#fff"/><circle cx="546.50" cy="838.5" r="5.5" fill="#2ca02c"/>
<circle cx="550.50" cy="838.5" r="10.0" fill="#fff"/><circle cx="550.50" cy="838.5" r="5.5" fill="#2ca02c"/>
<circle cx="555.50" cy="838.5" r="10.0" fill="#fff"/><circle cx="555.50" cy="838.5" r="5.5" fill="#2ca02c"/>
<circle cx="559.50" cy="838.5" r="10.0" fill="#fff"/><circle cx="559.50" cy="838.5" r="5.5" fill="#2ca02c"/>
<circle cx="564.50" cy="838.5" r="10.0" fill="#fff"/><circle cx="564.50" cy="838.5" r="5.5" fill="#2ca02c"/>
<circle cx="568.50" cy="838.5" r="10.0" fill="#fff"/><circle cx="568.50" cy="838.5" r="5.5" fill="#2ca02c"/>
<circle cx="572.50" cy="838.5" r="10.0" fill="#fff"/><circle cx="572.50" cy="838.5" r="5.5" fill="#2ca02c"/>
<circle cx="577.50" cy="838.5" r="10.0" fill="#fff"/><circle cx="577.50" cy="838.5" r="5.5" fill="#2ca02c"/>
<circle cx="581.50" cy="838.5" r="10.0" fill="#fff"/><circle cx="581.50" cy="838.5" r="5.5" fill="#2ca02c"/>
<circle cx="585.50" cy="838.5" r="10.0" fill="#fff"/><circle cx="585.50" cy="838.5" r="5.5" fill="#2ca02c"/>
<circle cx="590.50" cy="838.5" r="10.0" fill="#fff"/><circle cx="590.50" cy="838.5" r="5.5" fill="#2ca02c"/>
<circle cx="594.50" cy="838.5" r="10.0" fill="#fff"/><circle cx="594.50" cy="838.5" r="5.5" fill="#2ca02c"/>
<circle cx="598.50" cy="838.5" r="10.0" fill="#fff"/><circle cx="598.50" cy="838.5" r="5.5" fill="#2ca02c"/>
<circle cx="603.50" cy="838.5" r="10.0" fill="#fff"/><circle cx="603.50" cy="838.5" r="5.5" fill="#2ca02c"/>
<circle cx="607.50" cy="838.5" r="10.0" fill="#fff"/><circle cx="607.50" cy="838.5" r="5.5" fill="#2ca02c"/>
<circle cx="611.50" cy="838.5" r="10.0" fill="#fff"/><circle cx="611.50" cy="838.5" r="5.5" fill="#2ca02c"/>
<circle cx="616.50" cy="838.5" r="10.0" fill="#fff"/><circle cx="616.50" cy="838.5" r="5.5" fill="#2ca02c"/>
<circle cx="620.50" cy="838.5" r="10.0" fill="#fff"/><circle cx="620.50" cy="838.5" r="5.5" fill="#2ca02c"/>
<circle cx="625.50" cy="838.5" r="10.0" fill="#fff"/><circle cx="625.50" cy="838.5" r="5.5" fill="#2ca02c"/>
<circle cx="629.50" cy="838.5" r="10.0" fill="#fff"/><circle cx="629.50" cy="838.5" r="5.5" fill="#2ca02c"/>
<circle cx="633.50" cy="838.5" r="10.0" fill="#fff"/><circle cx="633.50" cy="838.5" r="5.5" fill="#2ca02c"/>
<circle cx="638.50" cy="838.5" r="10.0" fill="#fff"/><circle cx="638.50" cy="838.5" r="5.5" fill="#2ca02c"/>
<circle cx="642.50" cy="838.5" r="10.0" fill="#fff"/><circle cx="642.50" cy="838.5" r="5.5" fill="#2ca02c"/>
<circle cx="646.50" cy="838.5" r="10.0" fill="#fff"/><circle cx="646.50" cy="838.5" r="5.5" fill="#2ca02c"/>
<circle cx="651.50" cy="838.5" r="10.0" fill="#fff"/><circle cx="651.50" cy="838.5" r="5.5" fill="#2ca02c"/>
<circle cx="655.50" cy="838.5" r="10.0" fill="#fff"/><circle cx="655.50" cy="838.5" r="5.5" fill="#2ca02c"/>
<circle cx="659.50" cy="838.5" r="10.0" fill="#fff"/><circle cx="659.50" cy="838.5" r="5.5" fill="#2ca02c"/>
<circle cx="664.50" cy="838.5" r="10.0" fill="#fff"/><circle cx="664.50" cy="838.5" r="5.5" fill="#2ca02c"/>
<circle cx="668.50" cy="838.5" r="10.0" fill="#fff"/><circle cx="668.50" cy="838.5" r="5.5" fill="#2ca02c"/>
<circle cx="673.50" cy="838.5" r="10.0" fill="#fff"/><circle cx="673.50" cy="838.5" r="5.5" fill="#2ca02c"/>
<circle cx="677.50" cy="838.5" r="10.0" fill="#fff"/><circle cx="677.50" cy="838.5" r="5.5" fill="#2ca02c"/>
<circle cx="681.50" cy="838.5" r="10.0" fill="#fff"/><circle cx="681.50" cy="838.5" r="5.5" fill="#2ca02c"/>
<circle cx="686.50" cy="838.5" r="10.0" fill="#fff"/><circle cx="686.50" cy="838.5" r="5.5" fill="#2ca02c"/>
<circle cx="690.50" cy="838.5" r="10.0" fill="#fff"/><circle cx="690.50" cy="838.5" r="5.5" fill="#2ca02c"/>
<circle cx="694.50" cy="838.5" r="10.0" fill="#fff"/><circle cx="694.50" cy="838.5" r="5.5" fill="#2ca02c"/>
<circle cx="699.50" cy="838.5" r="10.0" fill="#fff"/><circle cx="699.50" cy="838.5" r="5.5" fill="#2ca02c"/>
<circle cx="703.50" cy="838.5" r="10.0" fill="#fff"/><circle cx="703.50" cy="838.5" r="5.5" fill="#2ca02c"/>
<circle cx="707.50" cy="838.5" r="10.0" fill="#fff"/><circle cx="707.50" cy="838.5" r="5.5" fill="#2ca02c"/>
<circle cx="712.50" cy="838.5" r="10.0" fill="#fff"/><circle cx="712.50" cy="838.5" r="5.5" fill="#2ca02c"/>
<circle cx="716.50" cy="838.5" r="10.0" fill="#fff"/><circle cx="716.50" cy="838.5" r="5.5" fill="#2ca02c"/>
<circle cx="720.50" cy="838.5" r="10.0" fill="#fff"/><circle cx="720.50" cy="838.5" r="5.5" fill="#2ca02c"/>
<circle cx="725.50" cy="838.5" r="10.0" fill="#fff"/><circle cx="725.50" cy="838.5" r="5.5" fill="#2ca02c"/>
<circle cx="729.50" cy="838.5" r="10.0" fill="#fff"/><circle cx="729.50" cy="838.5" r="5.5" fill="#2ca02c"/>
<circle cx="734.50" cy="838.5" r="10.0" fill="#fff"/><circle cx="734.50" cy="838.5" r="5.5" fill="#2ca02c"/>
<circle cx="738.50" cy="838.5" r="10.0" fill="#fff"/><circle cx="738.50" cy="838.5" r="5.5" fill="#2ca02c"/>
<circle cx="742.50" cy="838.5" r="10.0" fill="#fff"/><circle cx="742.50" cy="838.5" r="5.5" fill="#2ca02c"/>
<circle cx="747.50" cy="838.5" r="10.0" fill="#fff"/><circle cx="747.50" cy="838.5" r="5.5" fill="#2ca02c"/>
<circle cx="751.50" cy="838.5" r="10.0" fill="#fff"/><circle cx="751.50" cy="838.5" r="5.5" fill="#2ca02c"/>
<circle cx="755.50" cy="838.5" r="10.0" fill="#fff"/><circle cx="755.50" cy="838.5" r="5.5" fill="#2ca02c"/>
<circle cx="760.50" cy="838.5" r="10.0" fill="#fff"/><circle cx="760.50" cy="838.5" r="5.5" fill="#2ca02c"/>
<circle cx="764.50" cy="838.5" r="10.0" fill="#fff"/><circle cx="764.50" cy="838.5" r="5.5" fill="#2ca02c"/>
<circle cx="768.50" cy="838.5" r="10.0" fill="#fff"/><circle cx="768.50" cy="838.5" r="5.5" fill="#2ca02c"/>
<circle cx="773.50" cy="838.5" r="10.0" fill="#fff"/><circle cx="773.50" cy="838.5" r="5.5" fill="#2ca02c"/>
<circle cx="777.50" cy="838.5" r="10.0" fill="#fff"/><circle cx="777.50" cy="838.5" r="5.5" fill="#2ca02c"/>
<circle cx="782.50" cy="838.5" r="10.0" fill="#fff"/><circle cx="782.50" cy="838.5" r="5.5" fill="#2ca02c"/>
<circle cx="786.50" cy="838.5" r="10.0" fill="#fff"/><circle cx="786.50" cy="838.5" r="5.5" fill="#2ca02c"/>
<circle cx="790.50" cy="838.5" r="10.0" fill="#fff"/><circle cx="790.50" cy="838.5" r="5.5" fill="#2ca02c"/>
<circle cx="795.50" cy="838.5" r="10.0" fill="#fff"/><circle cx="795.50" cy="838.5" r="5.5" fill="#2ca02c"/>
<circle cx="799.50" cy="838.5" r="10.0" fill="#fff"/><circle cx="799.50" cy="838.5" r="5.5" fill="#2ca02c"/>
<circle cx="803.50" cy="838.5" r="10.0" fill="#fff"/><circle cx="803.50" cy="838.5" r="5.5" fill="#2ca02c"/>
<circle cx="808.50" cy="838.5" r="10.0" fill="#fff"/><circle cx="808.50" cy="838.5" r="5.5" fill="#2ca02c"/>
<circle cx="812.50" cy="838.5" r="10.0" fill="#fff"/><circle cx="812.50" cy="838.5" r="5.5" fill="#2ca02c"/>
<circle cx="816.50" cy="838.5" r="10.0" fill="#fff"/><circle cx="816.50" cy="838.5" r="5.5" fill="#2ca02c"/>
<circle cx="821.50" cy="838.5" r="10.0" fill="#fff"/><circle cx="821.50" cy="838.5" r="5.5" fill="#2ca02c"/>
<circle cx="825.50" cy="838.5" r="10.0" fill="#fff"/><circle cx="825.50" cy="838.5" r="5.5" fill="#2ca02c"/>
<circle cx="830.50" cy="838.5" r="10.0" fill="#fff"/><circle cx="830.50" cy="838.5" r="5.5" fill="#2ca02c"/>
<circle cx="834.50" cy="838.5" r="10.0" fill="#fff"/><circle cx="834.50" cy="838.5" r="5.5" fill="#2ca02c"/>
<circle cx="838.50" cy="838.5" r="10.0" fill="#fff"/><circle cx="838.50" cy="838.5" r="5.5" fill="#2ca02c"/>
<circle cx="843.50" cy="838.5" r="10.0" fill="#fff"/><circle cx="843.50" cy="838.5" r="5.5" fill="#2ca02c"/>
<circle cx="847.50" cy="838.5" r="10.0" fill="#fff"/><circle cx="847.50" cy="838.5" r="5.5" fill="#2ca02c"/>
<circle cx="851.50" cy="838.5" r="10.0" fill="#fff"/><circle cx="851.50" cy="838.5" r="5.5" fill="#2ca02c"/>
<circle cx="856.50" cy="838.5" r="10.0" fill="#fff"/><circle cx="856.50" cy="838.5" r="5.5" fill="#2ca02c"/>
<circle cx="860.50" cy="838.5" r="10.0" fill="#fff"/><circle cx="860.50" cy="838.5" r="5.5" fill="#2ca02c"/>
<circle cx="864.50" cy="838.5" r="10.0" fill="#fff"/><circle cx="864.50" cy="838.5" r="5.5" fill="#2ca02c"/>
<circle cx="869.50" cy="838.5" r="10.0" fill="#fff"/><circle cx="869.50" cy="838.5" r="5.5" fill="#2ca02c"/>
<circle cx="873.50" cy="838.5" r="10.0" fill="#fff"/><circle cx="873.50" cy="838.5" r="5.5" fill="#2ca02c"/>
<circle cx="877.50" cy="838.5" r="10.0" fill="#fff"/><circle cx="877.50" cy="838.5" r="5.5" fill="#2ca02c"/>
<circle cx="882.50" cy="838.5" r="10.0" fill="#fff"/><circle cx="882.50" cy="838.5" r="5.5" fill="#2ca02c"/>
<circle cx="886.50" cy="838.5" r="10.0" fill="#fff"/><circle cx="886.50" cy="838.5" r="5.5" fill="#2ca02c"/>
<circle cx="891.50" cy="838.5" r="10.0" fill="#fff"/><circle cx="891.50" cy="838.5" r="5.5" fill="#2ca02c"/>
<circle cx="895.50" cy="838.5" r="10.0" fill="#fff"/><circle cx="895.50" cy="838.5" r="5.5" fill="#2ca02c"/>
<circle cx="899.50" cy="838.5" r="10.0" fill="#fff"/><circle cx="899.50" cy="838.5" r="5.5" fill="#2ca02c"/>
<circle cx="904.50" cy="838.5" r="10.0" fill="#fff"/><circle cx="904.50" cy="838.5" r="5.5" fill="#2ca02c"/>
<circle cx="908.50" cy="838.5" r="10.0" fill="#fff"/><circle cx="908.50" cy="838.5" r="5.5" fill="#2ca02c"/>
<circle cx="912.50" cy="838.5" r="10.0" fill="#fff"/><circle cx="912.50" cy="838.5" r="5.5" fill="#2ca02c"/>
<circle cx="917.50" cy="838.5" r="10.0" fill="#fff"/><circle cx="917.50" cy="838.5" r="5.5" fill="#2ca02c"/>
<circle cx="921.50" cy="838.5" r="10.0" fill="#fff"/><circle cx="921.50" cy="838.5" r="5.5" fill="#2ca02c"/>
<circle cx="925.50" cy="838.5" r="10.0" fill="#fff"/><circle cx="925.50" cy="838.5" r="5.5" fill="#2ca02c"/>
<circle cx="930.50" cy="838.5" r="10.0" fill="#fff"/><circle cx="930.50" cy="838.5" r="5.5" fill="#2ca02c"/>
<circle cx="934.50" cy="838.5" r="10.0" fill="#fff"/><circle cx="934.50" cy="838.5" r="5.5" fill="#2ca02c"/>
<circle cx="939.50" cy="838.5" r="10.0" fill="#fff"/><circle cx="939.50" cy="838.5" r="5.5" fill="#2ca02c"/>
<circle cx="943.50" cy="838.5" r="10.0" fill="#fff"/><circle cx="943.50" cy="838.5" r="5.5" fill="#2ca02c"/>
<circle cx="947.50" cy="838.5" r="10.0" fill="#fff"/><circle cx="947.50" cy="838.5" r="5.5" fill="#2ca02c"/>
<circle cx="952.50" cy="838.5" r="10.0" fill="#fff"/><circle cx="952.50" cy="838.5" r="5.5" fill="#2ca02c"/>
<circle cx="956.50" cy="838.5" r="10.0" fill="#fff"/><circle cx="956.50" cy="838.5" r="5.5" fill="#2ca02c"/>
<circle cx="960.50" cy="838.5" r="10.0" fill="#fff"/><circle cx="960.50" cy="838.5" r="5.5" fill="#2ca02c"/>
<circle cx="965.50" cy="838.5" r="10.0" fill="#fff"/><circle cx="965.50" cy="838.5" r="5.5" fill="#2ca02c"/>
</g>
<g stroke="#000" stroke-width="1" fill="none" stroke-linecap="butt">
<path d="M75.5 57.0V838.5H1166.0" stroke-linejoin="miter"/>
</g>
<text x="65.3" y="844.8" text-anchor="end">0</text>
<text x="65.3" y="732.9" text-anchor="end">5</text>
<text x="65.3" y="621.8" text-anchor="end">10</text>
<text x="65.3" y="509.8" text-anchor="end">15</text>
<text x="65.3" y="397.9" text-anchor="end">20</text>
<text x="65.3" y="286.8" text-anchor="end">25</text>
<text x="65.3" y="174.8" text-anchor="end">30</text>
<text x="65.3" y="62.9" text-anchor="end">35</text>
<text x="78.1" y="863.8" text-anchor="middle">0</text>
<text x="296.1" y="863.8" text-anchor="middle">50</text>
<text x="514.1" y="863.8" text-anchor="middle">100</text>
<text x="732.1" y="863.8" text-anchor="middle">150</text>
<text x="950.1" y="863.8" text-anchor="middle">200</text>
<text x="1168.1" y="863.8" text-anchor="middle">250</text>
<text x="620.7" y="891.7" text-anchor="middle" letter-spacing="0.1">Time (s)</text>
<text transform="translate(24.4 448.6) rotate(-90)" text-anchor="middle" letter-spacing="0.14">Megabits</text>
<text x="24" y="34.8" style="white-space:pre">/mnt/stor0/searchlight/corpus/experiment<tspan font-size="12.8px" dy="3.9">3</tspan><tspan dy="-3.9">/eth1</tspan><tspan font-size="12.8px" dy="3.9">i</tspan><tspan dy="-3.9">nterface/exp-c-576-hls-http3/1646771048-c0.caubryvid.hdumb.pharos-exp-c-576-hls-http3.pcap.csv</tspan></text>
<text x="1086.8" y="79.8" text-anchor="end" xml:space="preserve" style="white-space:pre">TCP</text>
<path d="M1097.5 74.5H1145.5" stroke="#0060ad" stroke-width="2" fill="none"/>
<circle cx="1121.5" cy="74.5" r="10.0" fill="#fff"/><circle cx="1121.5" cy="74.5" r="5.5" fill="#0060ad"/>
<text x="1086.8" y="99.0" text-anchor="end" xml:space="preserve" style="white-space:pre">UDP</text>
<path d="M1097.5 93.4H1145.5" stroke="#ff7f00" stroke-width="2" fill="none"/>
<circle cx="1121.5" cy="93.4" r="10.0" fill="#fff"/><circle cx="1121.5" cy="93.4" r="5.5" fill="#ff7f00"/>
<text x="1086.8" y="118.1" text-anchor="end" xml:space="preserve" style="white-space:pre">IP (!TCP  !UDP)</text>
<path d="M1097.5 112.5H1145.5" stroke="#2ca02c" stroke-width="2" fill="none"/>
<circle cx="1121.5" cy="112.5" r="10.0" fill="#fff"/><circle cx="1121.5" cy="112.5" r="5.5" fill="#2ca02c"/>
</svg></body></html>
